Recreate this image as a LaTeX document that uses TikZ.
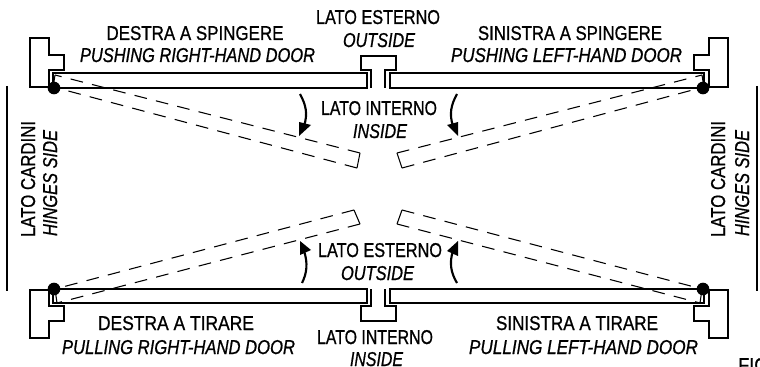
\documentclass[tikz,border=0pt]{standalone}
\usepackage{fontspec}
\usepackage{graphicx}
\setmainfont[FakeBold=0.9]{Liberation Sans}
\newdimen\pxu \pxu=.75pt
\newcommand{\lab}[2]{\resizebox{#1\pxu}{\height}{#2}}
\tikzset{
  thickline/.style={line width=1.6pt,line join=miter},
  dashline/.style={line width=.8pt,dash pattern=on 9.5pt off 7pt},
  thinline/.style={line width=.8pt},
  hingedot/.style={circle,fill=black,inner sep=0pt,minimum size=9.5pt},
  lbl/.style={inner sep=0pt,anchor=base,font=\fontsize{15pt}{16pt}\selectfont},
  lbli/.style={lbl,font=\fontsize{15pt}{16pt}\selectfont\itshape},
}
\begin{document}
\begin{tikzpicture}[x=.75pt,y=-.75pt]
\useasboundingbox (0,0) rectangle (760,367);
\clip (0,0) rectangle (760,367);
% frames
\draw[thickline] (49,70)--(64,70)--(64,55)--(49,55)--(49,38)--(30,38)--(30,87)--(49,87)--cycle;
\draw[thickline] (709,70)--(694,70)--(694,55)--(709,55)--(709,38)--(728,38)--(728,87)--(709,87)--cycle;
\draw[thickline] (49,306)--(64,306)--(64,321)--(49,321)--(49,338)--(30,338)--(30,290)--(49,290)--cycle;
\draw[thickline] (709,306)--(694,306)--(694,321)--(709,321)--(709,338)--(728,338)--(728,290)--(709,290)--cycle;
% closed door leaves
\draw[thickline] (53,73) rectangle (367,88);
\draw[thickline] (390,73) rectangle (704,88);
\draw[thickline] (53,289) rectangle (367,303);
\draw[thickline] (390,289) rectangle (704,303);
% centre stops
\draw[thickline] (371,88)--(371,70)--(361,70)--(361,56)--(396,56)--(396,70)--(385,70)--(385,88);
\draw[thickline] (371,289)--(371,306)--(361,306)--(361,321)--(396,321)--(396,306)--(385,306)--(385,289);
% swung door leaves (dashes start at the free corner)
\draw[dashline] (360,153)--(55,75);
\draw[dashline] (357,168)--(57,88);
\draw[thinline] (360,153)--(357,168) (55,75)--(53,88);
\draw[dashline] (397,153)--(702,75);
\draw[dashline] (402,168)--(700,88);
\draw[thinline] (397,153)--(402,168) (702,75)--(704,88);
\draw[dashline] (354,210)--(55,289);
\draw[dashline] (360,224)--(57,303);
\draw[thinline] (354,210)--(360,224) (55,289)--(57,303);
\draw[dashline] (402,210)--(702,289);
\draw[dashline] (397,224)--(700,303);
\draw[thinline] (402,210)--(397,224) (702,289)--(700,303);
% hinges
\node[hingedot] (h1) at (54,88) {};
\node[hingedot] (h2) at (703,88) {};
\node[hingedot] (h3) at (54,289) {};
\node[hingedot] (h4) at (703,289) {};
% swing arrows
\draw[thickline] (300,94) .. controls (306,105) and (308,114) .. (304,126);
\fill (299,136)--(299,122)--(311,125)--cycle;
\draw[thickline] (457,94) .. controls (451,105) and (449,114) .. (453,126);
\fill (458,136)--(447,125)--(458,122)--cycle;
\draw[thickline] (302,283) .. controls (307,273) and (308,263) .. (304,251);
\fill (300,241)--(300,255)--(311,250)--cycle;
\draw[thickline] (457,283) .. controls (451,273) and (449,263) .. (453,251);
\fill (458,241)--(447,251)--(458,256)--cycle;
% side lines
\draw[thickline] (7,86)--(7,291);
\draw[thickline] (757,86)--(757,291);
% labels
\node[lbl] (t1) at (195,40) {\lab{177}{DESTRA A SPINGERE}};
\node[lbli] (t2) at (197.5,62) {\lab{235}{PUSHING RIGHT-HAND DOOR}};
\node[lbl] (t3) at (378,24) {\lab{124}{LATO ESTERNO}};
\node[lbli] (t4) at (379,47) {\lab{72}{OUTSIDE}};
\node[lbl] (t5) at (570,40) {\lab{184}{SINISTRA A SPINGERE}};
\node[lbli] (t6) at (566.5,62) {\lab{231}{PUSHING LEFT-HAND DOOR}};
\node[lbl] (t7) at (379,115) {\lab{116}{LATO INTERNO}};
\node[lbli] (t8) at (380,138) {\lab{54}{INSIDE}};
\node[lbl] (t9) at (380,257) {\lab{124}{LATO ESTERNO}};
\node[lbli] (t10) at (377.5,280) {\lab{73}{OUTSIDE}};
\node[lbl] (t11) at (176,330) {\lab{156}{DESTRA A TIRARE}};
\node[lbli] (t12) at (178.5,354) {\lab{233}{PULLING RIGHT-HAND DOOR}};
\node[lbl] (t13) at (375,344) {\lab{116}{LATO INTERNO}};
\node[lbli] (t14) at (376.5,366) {\lab{53}{INSIDE}};
\node[lbl] (t15) at (577,330) {\lab{162}{SINISTRA A TIRARE}};
\node[lbli] (t16) at (583.5,354) {\lab{229}{PULLING LEFT-HAND DOOR}};
\node[lbl,rotate=90] (t17) at (35,179) {\lab{116}{LATO CARDINI}};
\node[lbli,rotate=90] (t18) at (57,183) {\lab{106}{HINGES SIDE}};
\node[lbl,rotate=90] (t19) at (725,179) {\lab{116}{LATO CARDINI}};
\node[lbli,rotate=90] (t20) at (749,183) {\lab{106}{HINGES SIDE}};
\node[lbl,anchor=base west] (t21) at (738,372) {\lab{30}{FIG}};
\end{tikzpicture}
\end{document}
